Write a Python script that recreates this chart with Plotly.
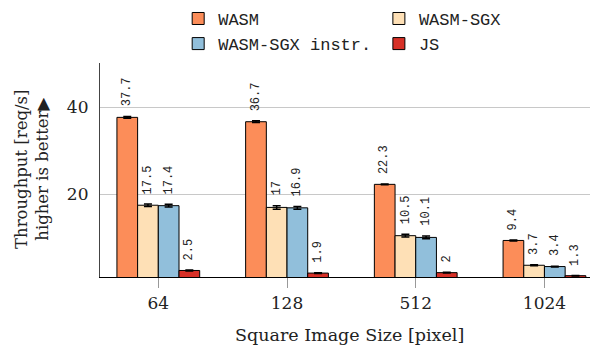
import plotly.graph_objects as go

categories = ["64", "128", "512", "1024"]
series_names = ["WASM", "WASM-SGX", "WASM-SGX instr.", "JS"]
wasm = [37.7, 36.7, 22.3, 9.4]
wasm_sgx = [17.5, 17.0, 10.5, 3.7]
wasm_sgx_instr = [17.4, 16.9, 10.1, 3.4]
js = [2.5, 1.9, 2.0, 1.3]
err_wasm = [0.2, 0.2, 0.1, 0.1]
err_wasm_sgx = [0.3, 0.4, 0.3, 0.1]
err_wasm_sgx_instr = [0.3, 0.3, 0.3, 0.1]
err_js = [0.1, 0.1, 0.1, 0.05]
labels = [["37.7", "36.7", "22.3", "9.4"],
          ["17.5", "17", "10.5", "3.7"],
          ["17.4", "16.9", "10.1", "3.4"],
          ["2.5", "1.9", "2", "1.3"]]

colors = ["#fc8d59", "#fee0b6", "#91bfdb", "#d73027"]
values = [wasm, wasm_sgx, wasm_sgx_instr, js]
errors = [err_wasm, err_wasm_sgx, err_wasm_sgx_instr, err_js]
legend_ids = ["legend", "legend2", "legend", "legend2"]

xpos = list(range(len(categories)))
bargap = 0.357
nser = len(values)
w = (1 - bargap) / nser

fig = go.Figure()
for i, (name, vals, errs, col) in enumerate(zip(series_names, values, errors, colors)):
    fig.add_trace(go.Bar(
        x=xpos, y=vals, name=name, legend=legend_ids[i], legendgroup=name,
        marker=dict(color=col, line=dict(color="black", width=1)),
        error_y=dict(type="data", array=errs, color="black", thickness=1.5, width=4),
    ))

annotations = []
for i in range(nser):
    off = (i - (nser - 1) / 2) * w
    for j, xv in enumerate(xpos):
        annotations.append(dict(
            x=xv + off, y=values[i][j] + errors[i][j], xref="x", yref="y",
            text=labels[i][j], textangle=-90, showarrow=False,
            xanchor="center", yanchor="bottom", yshift=8,
            font=dict(family="Liberation Mono", size=12, color="#222"),
        ))

annotations.append(dict(
    x=0, y=0.5, xref="paper", yref="paper", xanchor="right", yanchor="middle",
    xshift=-46, text="Throughput [req/s]<br>higher is better▶", textangle=-90,
    showarrow=False, font=dict(family="DejaVu Serif", size=16.5, color="#222"),
))
annotations.append(dict(
    x=0.5, y=0, xref="paper", yref="paper", xanchor="center", yanchor="middle",
    yshift=-58, text="Square Image Size [pixel]", showarrow=False,
    font=dict(family="DejaVu Serif", size=17.5, color="#222"),
))

leg_common = dict(orientation="v", yanchor="top", xanchor="left", y=1.29,
                  traceorder="normal", tracegroupgap=6, bgcolor="rgba(0,0,0,0)",
                  font=dict(family="Liberation Mono", size=17, color="#222"))

# the page body adds an 8px offset, so the figure is 8px smaller in each direction
fig.update_layout(
    width=590, height=340,
    margin=dict(l=92, r=0, t=55, b=71, autoexpand=False),
    paper_bgcolor="white", plot_bgcolor="white",
    barmode="group", bargap=bargap, bargroupgap=0,
    showlegend=True,
    legend=dict(x=0.157, **leg_common),
    legend2=dict(x=0.560, **leg_common),
    annotations=annotations,
    xaxis=dict(range=[-0.453, 3.416], tickvals=xpos, ticktext=categories,
               ticks="outside", ticklen=10, tickcolor="#999", tickwidth=1,
               showline=True, linecolor="black", linewidth=1.2,
               showgrid=False, zeroline=False,
               tickfont=dict(family="DejaVu Serif", size=17, color="#222")),
    yaxis=dict(range=[1.0, 50.2], tickvals=[20, 40], ticks="", ticklabelstandoff=7,
               showline=True, linecolor="#444", linewidth=1.2, mirror=True,
               showgrid=True, gridcolor="#c8c8c8", gridwidth=1, zeroline=False,
               tickfont=dict(family="DejaVu Serif", size=17, color="#222")),
)

fig.write_html("out.html")
